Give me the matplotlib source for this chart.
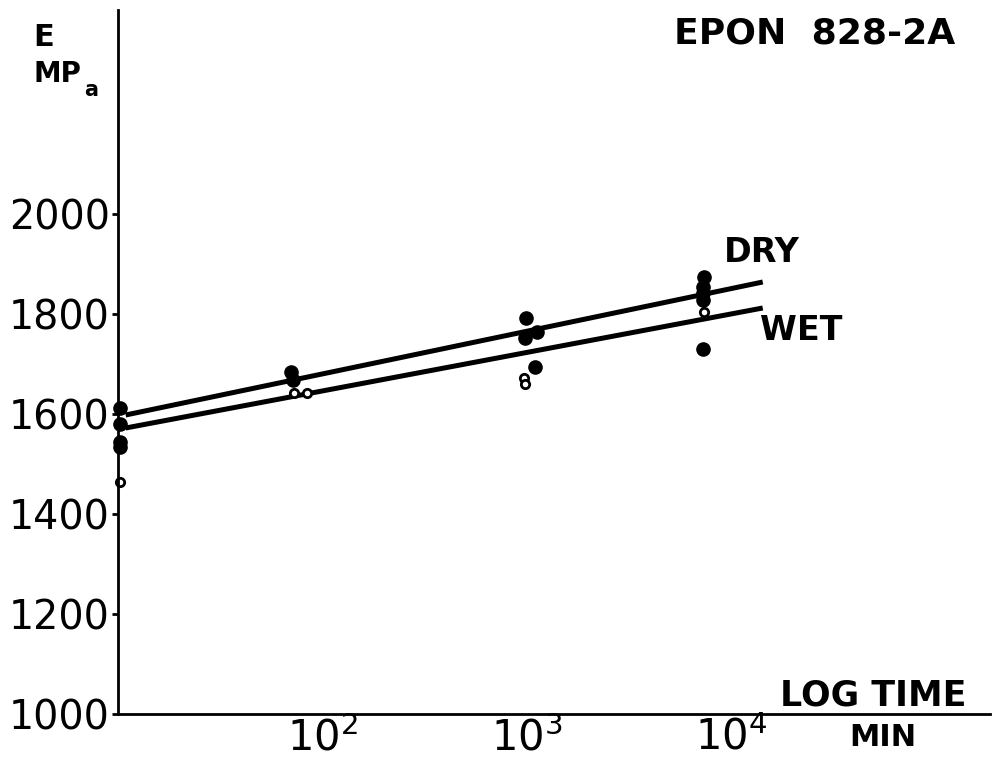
import matplotlib
matplotlib.use("Agg")
import matplotlib.pyplot as plt
import numpy as np

plt.rcParams['font.family'] = ['DejaVu Sans']
plt.rcParams['mathtext.fontset'] = 'dejavusans'

# measured modulus, solid dots
dot_t = [10.2, 10.2, 10.2, 10.2, 70, 72, 1000, 980, 1130, 1100,
         7400, 7300, 7350, 7350, 7300]
dot_E = [1612, 1580, 1545, 1535, 1684, 1668, 1792, 1752, 1764, 1694,
         1874, 1854, 1842, 1828, 1730]

# measured modulus, open circles
ring_t = [10.2, 73, 84, 975, 985, 7400]
ring_E = [1464, 1642, 1642, 1672, 1660, 1804]

# fitted lines (time in min, E in MPa)
fit_t = [10.9, 14360]
dry_E = [1598, 1864]
wet_E = [1572, 1812]

yticks = [1000, 1200, 1400, 1600, 1800, 2000]
xticks = [100, 1000, 10000]
xlabels = [r'$10^2$', r'$10^3$', r'$10^4$']

W, H = 993, 765
fig = plt.figure(figsize=(W / 100, H / 100), dpi=100)
ax = fig.add_axes([118 / W, 1 - 714 / H, (990 - 118) / W, (714 - 10) / H])

ax.set_xscale('log')
ax.set_xlim(10, 10 ** 5.27)
ax.set_ylim(1000, 2408)

ax.plot(fit_t, dry_E, color='black', lw=3.6, solid_capstyle='butt')
ax.plot(fit_t, wet_E, color='black', lw=3.6, solid_capstyle='butt')
ax.plot(dot_t, dot_E, 'o', color='black', ms=9.5, clip_on=False)
ax.plot(ring_t, ring_E, 'o', mfc='white', mec='black', mew=2, ms=6, clip_on=False)

for s in ['top', 'right']:
    ax.spines[s].set_visible(False)
for s in ['left', 'bottom']:
    ax.spines[s].set_linewidth(2)

ax.set_yticks(yticks)
ax.set_yticklabels([str(v) for v in yticks])
ax.tick_params(axis='y', direction='out', length=4, width=2, pad=2, labelsize=28.5)
ax.set_xticks(xticks)
ax.set_xticklabels(xlabels)
ax.xaxis.set_minor_locator(matplotlib.ticker.NullLocator())
ax.tick_params(axis='x', length=0, pad=2, labelsize=30)


def ftext(x, y, s, **kw):
    fig.text(x / W, 1 - y / H, s, ha='center', va='center', fontweight='bold', **kw)


ftext(44, 37, 'E', fontsize=22)
ftext(57, 74, 'MP', fontsize=20)
ftext(91, 90, 'a', fontsize=15)
ftext(815, 33, 'EPON  828-2A', fontsize=26)
ftext(762, 252, 'DRY', fontsize=24)
ftext(801, 331, 'WET', fontsize=24)
ftext(873, 696, 'LOG TIME', fontsize=25)
ftext(883, 738, 'MIN', fontsize=22)

fig.savefig('out.png', dpi=100)
